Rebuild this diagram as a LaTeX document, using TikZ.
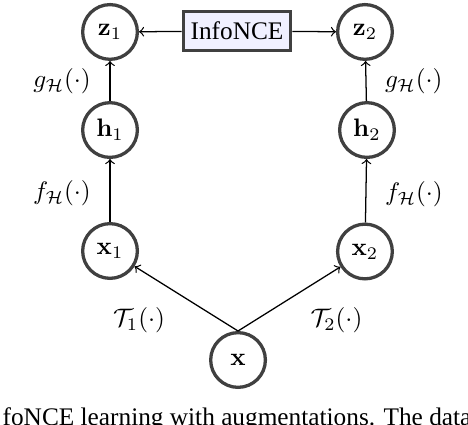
\documentclass[tikz,border=0pt]{standalone}
\usepackage[no-math]{fontspec}
\setmainfont{Liberation Serif}
\begin{document}
\begin{tikzpicture}[
    var/.style={circle, draw=black!75, line width=1.3pt, minimum size=0.76cm, inner sep=0pt},
    loss/.style={rectangle, draw=black!75, line width=1.3pt, fill=blue!6, minimum width=1.49cm, minimum height=0.54cm, inner sep=1pt},
    arrow/.style={->, line width=0.5pt}
]
    \useasboundingbox (0,0) rectangle (6.5,-5.889);

    % Knoten
    \node[var] (z1) at (1.528,-0.444) {$\mathbf{z}_1$};
    \node[var] (z2) at (5.069,-0.444) {$\mathbf{z}_2$};
    \node[loss] (nce) at (3.292,-0.431) {InfoNCE};
    \node[var] (h1) at (1.528,-1.806) {$\mathbf{h}_1$};
    \node[var] (h2) at (5.097,-1.806) {$\mathbf{h}_2$};
    \node[var] (x1) at (1.528,-3.486) {$\mathbf{x}_1$};
    \node[var] (x2) at (5.069,-3.493) {$\mathbf{x}_2$};
    \node[var] (x) at (3.306,-5.0) {$\mathbf{x}$};

    % Kanten
    \draw[arrow] (nce) -- (z1);
    \draw[arrow] (nce) -- (z2);
    \draw[arrow] (h1) -- node[left=4pt] {$g_{\mathcal{H}}(\cdot)$} (z1);
    \draw[arrow] (h2) -- node[right=4pt] {$g_{\mathcal{H}}(\cdot)$} (z2);
    \draw[arrow] (x1) -- node[left=4pt, pos=0.45] {$f_{\mathcal{H}}(\cdot)$} (h1);
    \draw[arrow] (x2) -- node[right=4pt, pos=0.45] {$f_{\mathcal{H}}(\cdot)$} (h2);
    \draw[arrow] (x.north) -- node[below left, xshift=-0.17cm] {$\mathcal{T}_1(\cdot)$} (x1);
    \draw[arrow] (x.north) -- node[below right, xshift=0.17cm] {$\mathcal{T}_2(\cdot)$} (x2);

    % Bildunterschrift (abgeschnitten)
    \node[anchor=base west, inner sep=0pt] (cap) at (0.03,-5.903) {foNCE learning with augmentations. The data};
\end{tikzpicture}
\end{document}
